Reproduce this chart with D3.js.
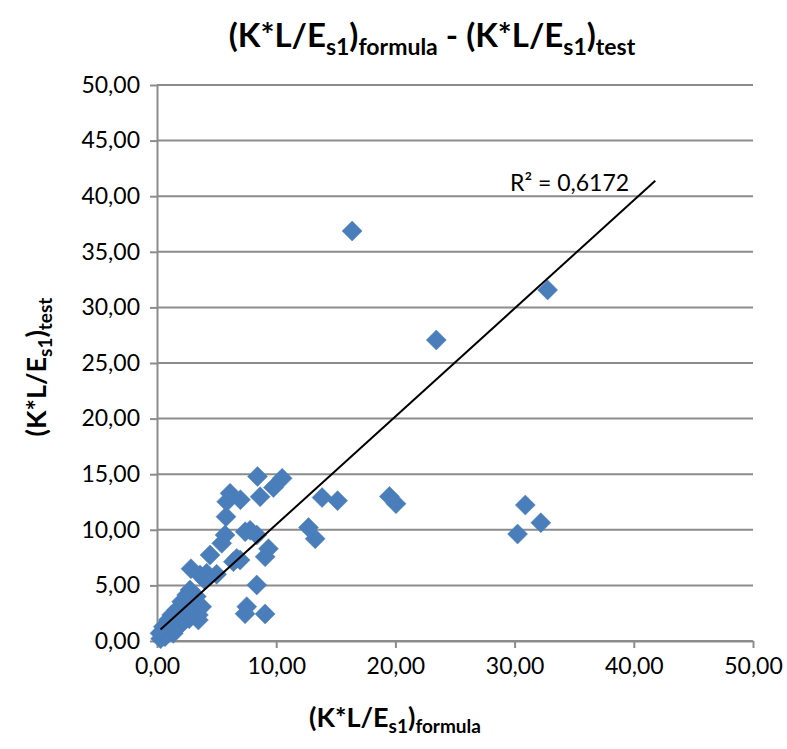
<!DOCTYPE html>
<html>
<head>
<meta charset="utf-8">
<script src="https://cdn.jsdelivr.net/npm/d3@7"></script>
<style>
  body { margin: 0; background: #fff; }
  text { font-family: Lato, "Open Sans", sans-serif; }
</style>
</head>
<body>
<div id="chart"></div>
<script>
//Data: (formula, test) pairs
var formulaValues = [16.37, 32.77, 23.43, 30.90, 32.20, 30.25, 10.50, 9.77, 8.43, 8.65,
                     7.00, 6.13, 5.85, 5.79, 13.85, 15.15, 19.50, 20.05, 12.71, 13.27,
                     7.40, 7.81, 8.37, 5.71, 5.43, 9.35, 9.07, 6.97, 6.41, 6.69,
                     4.45, 8.37, 7.53, 7.39, 9.07, 2.85, 4.17, 3.61, 3.75, 3.47,
                     2.77, 2.49, 2.07, 1.65, 1.23, 0.95, 0.53, 0.25, 0.67, 1.65,
                     2.21, 3.05, 3.47, 1.37, 0.30, 0.50, 2.60, 3.20, 1.90, 4.00,
                     2.00, 2.70, 1.00, 3.30, 5.00];
var testValues =    [36.87, 31.57, 27.07, 12.23, 10.64, 9.62, 14.63, 13.80, 14.80, 12.98,
                     12.70, 13.28, 12.53, 11.18, 12.90, 12.62, 13.00, 12.35, 10.20, 9.20,
                     9.83, 9.95, 9.53, 9.53, 8.78, 8.30, 7.58, 7.28, 7.13, 7.43,
                     7.73, 5.04, 3.09, 2.45, 2.43, 6.50, 6.09, 5.94, 3.09, 2.34,
                     4.59, 4.14, 3.54, 2.79, 2.34, 1.89, 1.29, 0.69, 0.39, 1.29,
                     1.74, 2.49, 1.89, 0.69, 0.20, 0.45, 3.00, 3.30, 2.20, 5.50,
                     1.50, 2.00, 0.90, 4.00, 6.00];
//Linear trendline shown in the chart
var trendSlope = 0.972;
var trendIntercept = 0.75;
var trendRange = [0.3, 41.8];
var rSquaredLabel = "R² = 0,6172";
//Axis ticks
var xTicks = [0, 10, 20, 30, 40, 50];
var yTicks = [0, 5, 10, 15, 20, 25, 30, 35, 40, 45, 50];

var points = formulaValues.map(function(d, i){ return {x: d, y: testValues[i]}; });

var width = 787, height = 749;
var margin = {top: 85, right: 34, bottom: 108, left: 157};

var svg = d3.select("#chart")
            .append("svg")
            .attr("width", width)
            .attr("height", height);

var xScale = d3.scaleLinear().domain([0, 50]).range([margin.left, width - margin.right]);
var yScale = d3.scaleLinear().domain([0, 50]).range([height - margin.bottom, margin.top]);

var fmt = function(d){ return d3.format(".2f")(d).replace(".", ","); };
var gridColor = "#8c8c8c";

//Horizontal gridlines
svg.append("g")
   .selectAll("line")
   .data(yTicks)
   .enter()
   .append("line")
   .attr("x1", xScale(0))
   .attr("x2", xScale(50))
   .attr("y1", function(d){ return yScale(d); })
   .attr("y2", function(d){ return yScale(d); })
   .attr("stroke", gridColor)
   .attr("stroke-width", 2);

//Axes
var xAxis = svg.append("g")
   .attr("transform", "translate(0," + yScale(0) + ")")
   .call(d3.axisBottom(xScale).tickValues(xTicks).tickFormat(fmt).tickSize(7).tickSizeOuter(0).tickPadding(10));
var yAxis = svg.append("g")
   .attr("transform", "translate(" + xScale(0) + ",0)")
   .call(d3.axisLeft(yScale).tickValues(yTicks).tickFormat(fmt).tickSize(7).tickSizeOuter(0).tickPadding(10));
[xAxis, yAxis].forEach(function(ax){
  ax.select(".domain").attr("stroke", gridColor).attr("stroke-width", 2);
  ax.selectAll(".tick line").attr("stroke", gridColor).attr("stroke-width", 2);
  ax.selectAll(".tick text").attr("font-size", "23px").attr("fill", "#000")
    .style("font-family", "Lato, sans-serif");
});

//Markers: squares turned 45 degrees
var diamond = d3.symbol().type(d3.symbolSquare).size(200);
svg.append("g")
   .selectAll("path")
   .data(points)
   .enter()
   .append("path")
   .attr("d", diamond)
   .attr("transform", function(d){ return "translate(" + xScale(d.x) + "," + yScale(d.y) + ") rotate(45)"; })
   .attr("fill", "#4a7ebb")
   .attr("stroke", "#4f81bd")
   .attr("stroke-width", 0.5);

//Trendline
svg.append("line")
   .attr("x1", xScale(trendRange[0]))
   .attr("y1", yScale(trendSlope * trendRange[0] + trendIntercept))
   .attr("x2", xScale(trendRange[1]))
   .attr("y2", yScale(trendSlope * trendRange[1] + trendIntercept))
   .attr("stroke", "#000")
   .attr("stroke-width", 2);

svg.append("text")
   .attr("x", 510)
   .attr("y", 191)
   .attr("font-size", "23px")
   .text(rSquaredLabel);

//Titles with subscripts
function labelParts(sel, parts, big, small, drop){
  parts.forEach(function(p){
    sel.append("tspan")
       .attr("font-size", p.sub ? small : big)
       .attr("dy", p.dy ? p.dy * drop : 0)
       .text(p.t);
  });
}
var title = svg.append("text")
   .attr("x", 432).attr("y", 47)
   .attr("text-anchor", "middle")
   .attr("font-weight", "bold");
labelParts(title, [
  {t: "(K*L/E"}, {t: "s1", sub: true, dy: 1}, {t: ")", dy: -1},
  {t: "formula", sub: true, dy: 1}, {t: " - (K*L/E", dy: -1},
  {t: "s1", sub: true, dy: 1}, {t: ")", dy: -1}, {t: "test", sub: true, dy: 1}
], "33px", "23px", 8);

var xTitle = svg.append("text")
   .attr("x", 395).attr("y", 727)
   .attr("text-anchor", "middle")
   .attr("font-weight", "bold");
labelParts(xTitle, [
  {t: "(K*L/E"}, {t: "s1", sub: true, dy: 1}, {t: ")", dy: -1}, {t: "formula", sub: true, dy: 1}
], "27px", "19px", 6);

var yTitle = svg.append("text")
   .attr("transform", "translate(46,367) rotate(-90)")
   .attr("text-anchor", "middle")
   .attr("font-weight", "bold");
labelParts(yTitle, [
  {t: "(K*L/E"}, {t: "s1", sub: true, dy: 1}, {t: ")", dy: -1}, {t: "test", sub: true, dy: 1}
], "27px", "19px", 6);
</script>
</body>
</html>
